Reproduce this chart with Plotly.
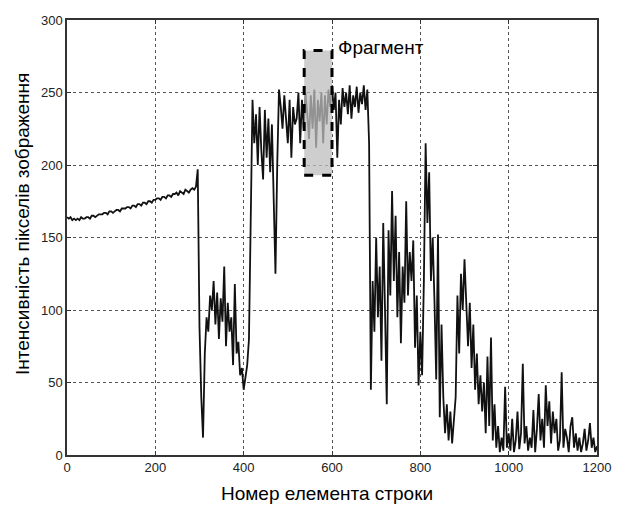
import plotly.graph_objects as go

# ---- data (sample step 4) ----
STEP = 4
seg_a_start = 0
seg_a = [164,163,164,162,163,162,163,162,164,163,163,164,164,163,165,165,164,165,166,166,
         166,167,167,166,168,168,167,168,169,169,168,170,170,170,171,171,170,172,172,171,
         173,173,172,174,174,173,175,175,174,176,176,177,177,176,178,178,177,179,179,178,
         180,180,181,179,182,181,180,183,182,181,183,184,183,185]
seg_b_start = 296
seg_b = [197,88,40,12,70,95,85,110,100,120,90,112,80,108,92,130,75,105,85,95,62,118,70,78,
         55,60,45,52,62,80,150]
seg_c_start = 420
seg_c = [245,215,235,200,240,210,190,238,205,232,195,228,180,125,200,252,240,225,248,230,
         215,245,205,240,228]
seg_d_start = 520
seg_d = [232,250,215,245,225,250,235,218,248,225,252,212,245,230,250,215,248,228,252,240,255]
seg_e_start = 604
seg_e = [238,250,205,245,228,253,240,250,235,255,232,248,240,254,236,250,242,255,238,252,215]
seg_f_start = 688
seg_f = [45,120,85,150,95,130,65,160,100,35,155,110,182,120,165,95,140,77,130,105,175,110,
         140,120,148,74,110,48,85,55,120]
seg_g_start = 812
seg_g = [215,160,195,120,150,106,52,152,26,90,40,15,35,10,30,8,25,40,110,70,125,100,135]
seg_h_start = 904
seg_h = [110,75,105,60,90,45,70,35,55,30,50,15,68,20,81,10,35,5,20,2,12,3,47,5,15]
seg_i_start = 1004
seg_i = [3,25,2,10,30,4,15,63,8,20,3,12,5,31,2,18,42,10,25,5,48,20,37,8,30,15,25,3,10,57,
         5,18,12,2,20,26,5,15,3,12,2,8,18,3,10,22,5,12,2,6]

x_ticks = [0, 200, 400, 600, 800, 1000, 1200]
y_ticks = [0, 50, 100, 150, 200, 250, 300]
fragment_x = [537, 600]
fragment_y = [193, 279]
fragment_label = "Фрагмент"
x_title = "Номер елемента строки"
y_title = "Інтенсивність пікселів зображення"

segments = [(seg_a_start, seg_a), (seg_b_start, seg_b), (seg_c_start, seg_c),
            (seg_d_start, seg_d), (seg_e_start, seg_e), (seg_f_start, seg_f),
            (seg_g_start, seg_g), (seg_h_start, seg_h), (seg_i_start, seg_i)]
xs, ys = [], []
for start, vals in segments:
    for i, v in enumerate(vals):
        xs.append(start + STEP * i)
        ys.append(v)

FONT = "Liberation Sans, Arial"

fig = go.Figure()
fig.add_trace(go.Scatter(x=xs, y=ys, mode="lines",
                         line=dict(color="#111111", width=1.8), showlegend=False))

fig.add_shape(type="rect", xref="x", yref="y",
              x0=fragment_x[0], x1=fragment_x[1], y0=fragment_y[0], y1=fragment_y[1],
              fillcolor="rgba(190,190,190,0.75)", layer="above",
              line=dict(color="black", width=3, dash="dash"))
fig.add_annotation(x=fragment_x[1] + 8, y=fragment_y[1] + 2, text=fragment_label,
                   showarrow=False, xanchor="left", yanchor="middle",
                   font=dict(family=FONT, size=19, color="black"))

# axis titles as annotations for precise placement
fig.add_annotation(x=0.49, y=0, xref="paper", yref="paper", yshift=-38,
                   text=x_title, showarrow=False, xanchor="center", yanchor="middle",
                   font=dict(family=FONT, size=19, color="black"))
fig.add_annotation(x=0, y=0.531, xref="paper", yref="paper", xshift=-45,
                   text=y_title, showarrow=False, textangle=-90,
                   xanchor="center", yanchor="middle",
                   font=dict(family=FONT, size=19, color="black"))

axis_common = dict(showline=True, linecolor="#333", linewidth=1.5, mirror="ticks",
                   ticks="inside", ticklen=4, tickcolor="#333",
                   showgrid=True, gridcolor="#555", griddash="dot", gridwidth=1,
                   zeroline=False, automargin=False,
                   tickfont=dict(family=FONT, size=13, color="#222"))

fig.update_xaxes(range=[0, 1200], tickvals=x_ticks, **axis_common)
fig.update_yaxes(range=[0, 300], tickvals=y_ticks, **axis_common)

# page body has an 8px margin: figure placed at (8, 8)
fig.update_layout(width=616, height=497, plot_bgcolor="white", paper_bgcolor="white",
                  margin=dict(l=59, r=27, t=12, b=50))

fig.write_html("out.html")
